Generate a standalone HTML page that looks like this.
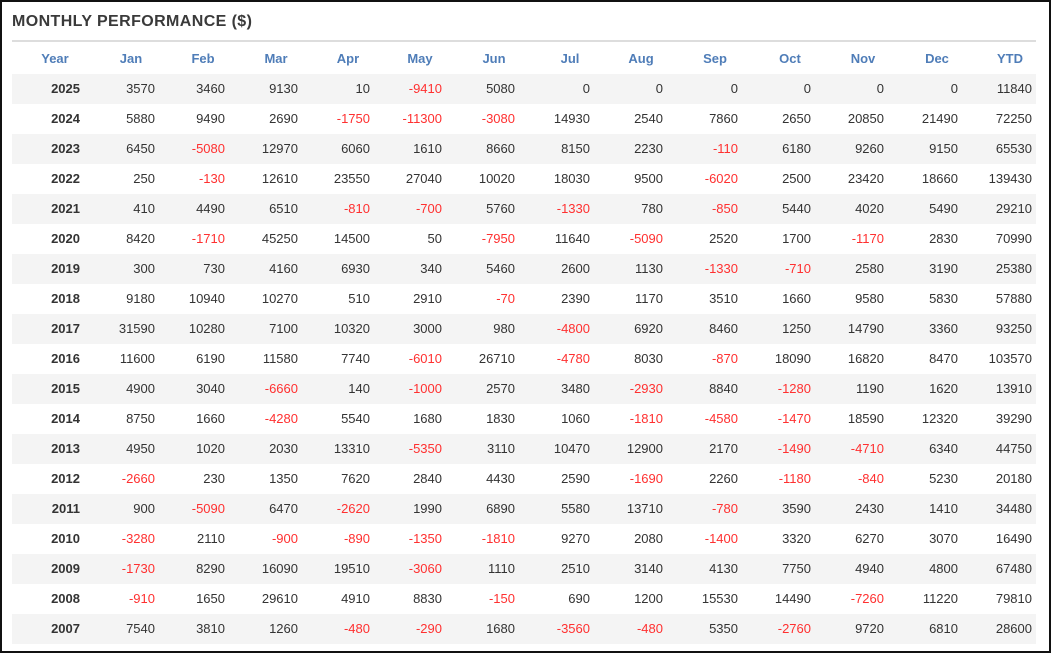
<!DOCTYPE html>
<html><head><meta charset="utf-8"><style>
body{margin:0;width:1051px;height:653px;background:#fff;font-family:"Liberation Sans",Arial,sans-serif;overflow:hidden}
#frame{position:absolute;left:0;top:0;width:1047px;height:649px;border:2px solid #111}
#title{position:absolute;left:12px;top:13px;font-size:16px;letter-spacing:0.4px;font-weight:bold;color:#3a3a3a}
#rule{position:absolute;left:12px;top:40px;width:1024px;height:2px;background:#ddd}
.c{position:absolute;font-size:13px;line-height:30px;color:#333;white-space:nowrap}
.h{color:#4f7db8;font-weight:bold;text-align:center;width:70px}
.row{position:absolute;left:12px;width:1024px;height:30px}
.neg{color:#ff3030}
</style></head><body>
<div id="frame"></div>
<div id="title">MONTHLY PERFORMANCE ($)</div>
<div id="rule"></div>
<div id="tbl"></div>
<script>
const headers=["Year","Jan","Feb","Mar","Apr","May","Jun","Jul","Aug","Sep","Oct","Nov","Dec","YTD"];
const years=[2025,2024,2023,2022,2021,2020,2019,2018,2017,2016,2015,2014,2013,2012,2011,2010,2009,2008,2007];
const values=[
[3570,3460,9130,10,-9410,5080,0,0,0,0,0,0,11840],
[5880,9490,2690,-1750,-11300,-3080,14930,2540,7860,2650,20850,21490,72250],
[6450,-5080,12970,6060,1610,8660,8150,2230,-110,6180,9260,9150,65530],
[250,-130,12610,23550,27040,10020,18030,9500,-6020,2500,23420,18660,139430],
[410,4490,6510,-810,-700,5760,-1330,780,-850,5440,4020,5490,29210],
[8420,-1710,45250,14500,50,-7950,11640,-5090,2520,1700,-1170,2830,70990],
[300,730,4160,6930,340,5460,2600,1130,-1330,-710,2580,3190,25380],
[9180,10940,10270,510,2910,-70,2390,1170,3510,1660,9580,5830,57880],
[31590,10280,7100,10320,3000,980,-4800,6920,8460,1250,14790,3360,93250],
[11600,6190,11580,7740,-6010,26710,-4780,8030,-870,18090,16820,8470,103570],
[4900,3040,-6660,140,-1000,2570,3480,-2930,8840,-1280,1190,1620,13910],
[8750,1660,-4280,5540,1680,1830,1060,-1810,-4580,-1470,18590,12320,39290],
[4950,1020,2030,13310,-5350,3110,10470,12900,2170,-1490,-4710,6340,44750],
[-2660,230,1350,7620,2840,4430,2590,-1690,2260,-1180,-840,5230,20180],
[900,-5090,6470,-2620,1990,6890,5580,13710,-780,3590,2430,1410,34480],
[-3280,2110,-900,-890,-1350,-1810,9270,2080,-1400,3320,6270,3070,16490],
[-1730,8290,16090,19510,-3060,1110,2510,3140,4130,7750,4940,4800,67480],
[-910,1650,29610,4910,8830,-150,690,1200,15530,14490,-7260,11220,79810],
[7540,3810,1260,-480,-290,1680,-3560,-480,5350,-2760,9720,6810,28600]];
const hdrCenters=[55,131,203,276,348,420,494,570,641,715,790,863,937,1010];
const rightEdges=[80,155,225,298,370,442,515,590,663,738,811,884,958,1032];
const tbl=document.getElementById('tbl');
headers.forEach((h,i)=>{
 const d=document.createElement('div');d.className='c h';
 
 
 d.style.left=(hdrCenters[i]-35)+'px';d.style.top='44px';d.textContent=h;tbl.appendChild(d);
});
years.forEach((y,r)=>{
 const top=74+r*30;
 const row=document.createElement('div');row.className='row';
 
 
 row.style.top=top+'px';row.style.background=r%2===0?'#f4f4f4':'#fff';tbl.appendChild(row);
 const cells=[y].concat(values[r]);
 cells.forEach((v,i)=>{
  const d=document.createElement('div');d.className='c'+(i>0&&v<0?' neg':'');
  
  
  if(i===0)d.style.fontWeight='bold';
  d.style.right=(1051-rightEdges[i])+'px';d.style.top=top+'px';d.textContent=v;tbl.appendChild(d);
 });
});
</script>
</body></html>
